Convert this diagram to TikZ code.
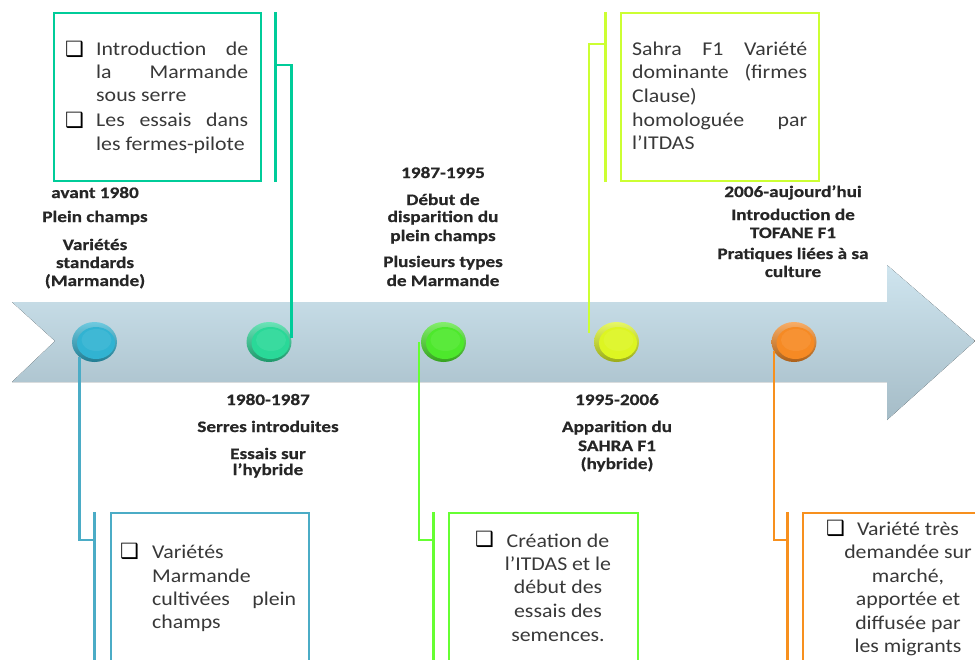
\documentclass[tikz,border=0pt]{standalone}
\usepackage{fontspec}
\setmainfont{Carlito}[FakeStretch=1.12]
\newfontfamily\labfont{Carlito}[FakeStretch=1.2, FakeBold=0.6]
\newfontfamily\symfont{DejaVu Sans}
\usetikzlibrary{shapes.geometric}
\definecolor{cblue}{HTML}{4BACC6}
\definecolor{cteal}{HTML}{00CC99}
\definecolor{cgreen}{HTML}{66FF33}
\definecolor{cyell}{HTML}{CCFF33}
\definecolor{corange}{HTML}{F7901E}
\definecolor{dblue}{HTML}{31B3D2}
\definecolor{dteal}{HTML}{2AD898}
\definecolor{dgreen}{HTML}{4DE82C}
\definecolor{dyell}{HTML}{DDF522}
\definecolor{dorange}{HTML}{F68A24}
\definecolor{labgray}{HTML}{262626}
\definecolor{bodygray}{HTML}{383838}
\definecolor{arrtop}{HTML}{CFE5EF}
\definecolor{arrbot}{HTML}{A5BCC7}
\tikzset{
  boxline/.style={line width=2pt, minimum width=#1, minimum height=175, inner sep=0, anchor=north west},
  bracket/.style={line width=3pt},
  conn/.style={line width=2.5pt},
  lab/.style={font=\labfont\bfseries\fontsize{16}{18}\selectfont, text=labgray, inner sep=0, anchor=base},
  body/.style={font=\fontsize{19.5}{23.5}\selectfont, text=bodygray, inner sep=0, anchor=base west},
  bodyc/.style={body, anchor=base},
  bul/.style={font=\symfont\fontsize{21}{21}\selectfont, text=black, inner sep=0, anchor=west},
  dot/.style={ellipse, minimum width=45, minimum height=40, inner sep=0,
    top color=#1!70!white, bottom color=#1!70!black,
    path picture={\fill[#1] ([shift={(1.5,1)}]path picture bounding box.center) ellipse (19 and 16);
                  \fill[#1!93!white] ([shift={(2,-2)}]path picture bounding box.center) ellipse (15 and 11);}},
}
\begin{document}
\begin{tikzpicture}[x=1pt,y=-1pt]
\useasboundingbox (0,0) rectangle (975,659);
\clip (0,0) rectangle (975,659);
% arrow
\fill[top color=arrtop, bottom color=arrbot] (12,302) -- (887,302) -- (887,265) -- (975,341) -- (887,420) -- (887,382) -- (12,382) -- (55,341) -- cycle;
% dots
\node[dot=dblue] (c1) at (94.5,342) {};
\node[dot=dteal] (c2) at (269,342) {};
\node[dot=dgreen] (c3) at (443.5,342) {};
\node[dot=dyell] (c4) at (616.5,342) {};
\node[dot=dorange] (c5) at (794,342) {};
% boxes
\node[draw=cteal, boxline=207, minimum height=168] (b2) at (53,12) {};
\node[draw=cyell, boxline=198, minimum height=168] (b4) at (620,12) {};
\node[draw=cblue, boxline=198] (b1) at (110,512) {};
\node[draw=cgreen, boxline=189] (b3) at (448,512) {};
\node[draw=corange, boxline=200] (b5) at (802,512) {};
% brackets
\draw[bracket, cteal] ([xshift=13]b2.north east) -- ([xshift=13]b2.south east);
\draw[bracket, cyell] ([xshift=-15]b4.north west) -- ([xshift=-15]b4.south west);
\draw[bracket, cblue] ([xshift=-16]b1.north west) -- ([xshift=-16]b1.south west);
\draw[bracket, cgreen] ([xshift=-15]b3.north west) -- ([xshift=-15]b3.south west);
\draw[bracket, corange] ([xshift=-15]b5.north west) -- ([xshift=-15]b5.south west);
% joints
\coordinate (j2) at ([shift={(13,53)}]b2.north east);
\coordinate (j4) at ([shift={(-15,32)}]b4.north west);
\coordinate (j1) at ([shift={(-16,28)}]b1.north west);
\coordinate (j3) at ([shift={(-15,28)}]b3.north west);
\coordinate (j5) at ([shift={(-15,28)}]b5.north west);
% connectors
\draw[conn, cteal] (j2) -| ([yshift=4]c2.east);
\draw[conn, cyell] (j4) -| ([shift={(-5,-9)}]c4.west);
\draw[conn, cblue] (c1.-135) |- (j1);
\draw[conn, cgreen] ([xshift=-2]c3.west) |- (j3);
\draw[conn, corange] (c5.-155) |- (j5);
% labels
\foreach \x/\y/\t [count=\i] in {
  95/198/avant 1980, 95/222/Plein champs, 95/250/Variétés, 95/268/standards, 95/286/(Marmande),
  443/178/1987-1995, 443/205/Début de, 443/222/disparition du, 443/241/plein champs, 443/267/Plusieurs types, 443/286/de Marmande,
  793/197/2006-aujourd’hui, 793/220/Introduction de, 793/238/TOFANE F1, 793/259/Pratiques liées à sa, 793/277/culture,
  268/405/1980-1987, 268/432/Serres introduites, 268/459/Essais sur, 268/475/l’hybride,
  617/405/1995-2006, 617/432/Apparition du, 617/451/SAHRA F1, 617/469/(hybride)}
  \node[lab] (L\i) at (\x,\y) {\t};
% box 2 text
\node[bul] (u1) at (65,49) {❑};
\node[bul] (u2) at (65,120) {❑};
\node[body] (t1) at (96,55) {\makebox[152pt][s]{Introduction de}};
\node[body] (t2) at (96,78) {\makebox[152pt][s]{la Marmande}};
\node[body] (t3) at (96,101) {sous serre};
\node[body] (t4) at (96,126) {\makebox[152pt][s]{Les essais dans}};
\node[body] (t5) at (96,150) {les fermes-pilote};
% box 4 text
\node[body] (s1) at (632,55) {\makebox[175pt][s]{Sahra F1 Variété}};
\node[body] (s2) at (632,78) {\makebox[175pt][s]{dominante (firmes}};
\node[body] (s3) at (632,102) {Clause)};
\node[body] (s4) at (632,126) {\makebox[175pt][s]{homologuée par}};
\node[body] (s5) at (632,149) {l’ITDAS};
% box 1 text
\node[bul] (u3) at (120,551) {❑};
\node[body] (v1) at (152,558) {Variétés};
\node[body] (v2) at (152,582) {Marmande};
\node[body] (v3) at (152,605) {\makebox[144pt][s]{cultivées plein}};
\node[body] (v4) at (152,628) {champs};
% box 3 text
\node[bul] (u4) at (475,539) {❑};
\node[bodyc] (w1) at (558,547) {Création de};
\node[bodyc] (w2) at (558,570) {l’ITDAS et le};
\node[bodyc] (w3) at (558,593) {début des};
\node[bodyc] (w4) at (558,617) {essais des};
\node[bodyc] (w5) at (558,641) {semences.};
% box 5 text
\node[bul] (u5) at (826,528) {❑};
\node[bodyc] (z1) at (908,535) {Variété très};
\node[bodyc] (z2) at (908,558) {demandée sur};
\node[bodyc] (z3) at (908,582) {marché,};
\node[bodyc] (z4) at (908,605) {apportée et};
\node[bodyc] (z5) at (908,629) {diffusée par};
\node[bodyc] (z6) at (908,652) {les migrants};
\end{tikzpicture}
\end{document}
